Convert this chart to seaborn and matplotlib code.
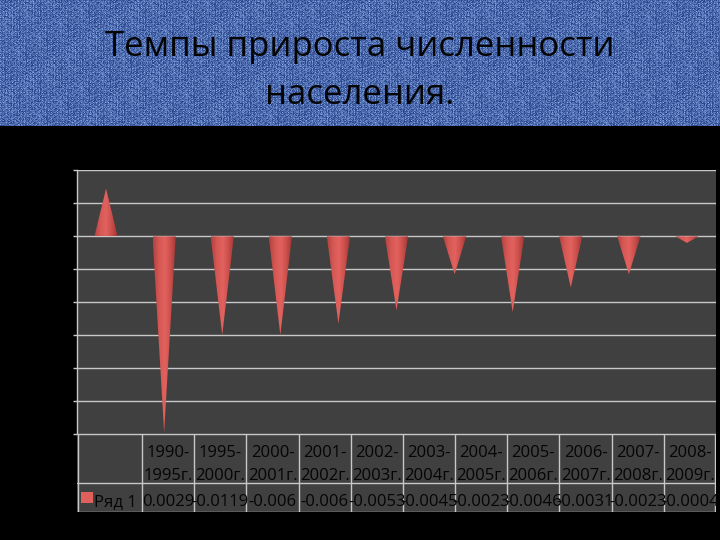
import numpy as np
import pandas as pd
import matplotlib
matplotlib.use("Agg")
import matplotlib.pyplot as plt
import seaborn as sns
from matplotlib.patches import Polygon, Rectangle
from matplotlib.colors import LinearSegmentedColormap

# ---------------- data ----------------
periods_top = ["1990-", "1995-", "2000-", "2001-", "2002-", "2003-",
               "2004-", "2005-", "2006-", "2007-", "2008-"]
periods_bottom = ["1995г.", "2000г.", "2001г.", "2002г.", "2003г.", "2004г.",
                  "2005г.", "2006г.", "2007г.", "2008г.", "2009г."]
values = [0.0029, -0.0119, -0.006, -0.006, -0.0053, -0.0045,
          -0.0023, -0.0046, -0.0031, -0.0023, -0.0004]
value_labels = ["0.0029", "-0.0119", "-0.006", "-0.006", "-0.0053", "-0.0045",
                "-0.0023", "-0.0046", "-0.0031", "-0.0023", "-0.0004"]
series_name = "Ряд 1"
title_lines = ["Темпы прироста численности", "населения."]
y_ticks = [-0.012, -0.010, -0.008, -0.006, -0.004, -0.002, 0.0, 0.002, 0.004]

# ---------------- style ----------------
sns.set_theme(style="dark")
plt.rcParams['font.family'] = ['Open Sans', 'DejaVu Sans']

W, H = 720, 540
fig = plt.figure(figsize=(7.2, 5.4), dpi=100, facecolor='black')


def fx(px):
    return px / W


def fy(py):
    return 1 - py / H


# ---------------- banner ----------------
banner_h = 126
bax = fig.add_axes([0, fy(banner_h), 1, banner_h / H])
yy, xx = np.mgrid[0:banner_h, 0:W]
t = ((xx * 37 + yy * 91 + (xx * yy) % 7 + (xx // 3) * 5) % 11) / 10.0
t = 0.5 * t + 0.3 * ((xx % 3 == 0) & (yy % 2 == 0)) + 0.05
t = np.clip(t, 0, 1)
dark = np.array([0.13, 0.24, 0.52])
light = np.array([0.62, 0.75, 0.97])
img = dark[None, None, :] + t[:, :, None] * (light - dark)[None, None, :]
bax.imshow(img, aspect='auto', extent=[0, W, banner_h, 0], interpolation='nearest')
bax.set_axis_off()

fig.text(0.5, fy(56), title_lines[0], ha='center', va='baseline',
         fontsize=25, color='#050505')
fig.text(0.5, fy(104), title_lines[1], ha='center', va='baseline',
         fontsize=25, color='#050505')

# ---------------- chart ----------------
bg = '#404040'
gridc = '#c8c8c8'
left_px, right_px = 77, 716
top_px, axis_bottom_px, table_bottom_px = 170.5, 434, 512

ax = fig.add_axes([fx(left_px), fy(axis_bottom_px),
                   (right_px - left_px) / W, (axis_bottom_px - top_px) / H])
ax.set_facecolor(bg)

df = pd.DataFrame({"period": [a + b for a, b in zip(periods_top, periods_bottom)],
                   "value": values})
sns.barplot(data=df, x="period", y="value", width=0.4, color='#c0504d',
            saturation=1, ax=ax, errorbar=None)

cmap = LinearSegmentedColormap.from_list(
    "cone", ['#b3423f', '#d65854', '#e2625e', '#c94e4a', '#9c3432'])
grad = np.linspace(0, 1, 64)[None, :]
for p in list(ax.patches):
    x0, w, h = p.get_x(), p.get_width(), p.get_height()
    p.set_visible(False)
    tri = Polygon([(x0, 0), (x0 + w, 0), (x0 + w / 2, h)], closed=True,
                  facecolor='none', edgecolor='none')
    ax.add_patch(tri)
    im = ax.imshow(grad, cmap=cmap, aspect='auto', interpolation='bilinear',
                   extent=[x0, x0 + w, min(0, h), max(0, h)], zorder=3)
    im.set_clip_path(tri)

ax.set_xlim(-0.5, len(values) - 0.5)
ax.set_ylim(y_ticks[0], y_ticks[-1])
ax.set_yticks(y_ticks)
ax.set_xticks([])
ax.set_xlabel("")
ax.set_ylabel("")
ax.grid(axis='y', color=gridc, lw=1.0)
ax.grid(axis='x', visible=False)
ax.set_axisbelow(True)
ax.tick_params(axis='y', left=True, length=3, width=1, color=gridc,
               labelleft=False, direction='out')
for s in ['top', 'right', 'bottom']:
    ax.spines[s].set_visible(False)
ax.spines['left'].set_color(gridc)
ax.spines['left'].set_linewidth(1.0)

# ---------------- data table ----------------
tax = fig.add_axes([fx(left_px), fy(table_bottom_px),
                    (right_px - left_px) / W, (table_bottom_px - axis_bottom_px) / H])
tax.set_facecolor(bg)
tax.set_xlim(left_px, right_px)
tax.set_ylim(table_bottom_px, axis_bottom_px)
tax.set_axis_off()
tax.add_patch(Rectangle((left_px, axis_bottom_px), right_px - left_px,
                        table_bottom_px - axis_bottom_px, facecolor=bg,
                        edgecolor='none', zorder=0))

col0 = 142
ncol = len(values)
cw = (right_px - col0) / ncol
mid_px = 483
lc = '#c8c8c8'
tax.plot([left_px, right_px], [axis_bottom_px, axis_bottom_px], color=lc, lw=1)
tax.plot([left_px, right_px], [mid_px, mid_px], color=lc, lw=1)
tax.plot([left_px, right_px], [table_bottom_px - 0.5, table_bottom_px - 0.5], color=lc, lw=1)
tax.plot([left_px + 0.5, left_px + 0.5], [axis_bottom_px, table_bottom_px], color=lc, lw=1)
for k in range(ncol + 1):
    xk = col0 + k * cw
    if k == ncol:
        xk -= 0.5
    tax.plot([xk, xk], [axis_bottom_px, table_bottom_px], color=lc, lw=1)

fs = 12
tcol = '#050505'
for k in range(ncol):
    cx = col0 + (k + 0.5) * cw
    tax.text(cx, 456.7, periods_top[k], ha='center', va='baseline', fontsize=fs, color=tcol)
    tax.text(cx, 480.3, periods_bottom[k], ha='center', va='baseline', fontsize=fs, color=tcol)
    tax.text(cx, 506.5, value_labels[k], ha='center', va='baseline', fontsize=fs, color=tcol)

tax.add_patch(Rectangle((81, 492), 12, 11, facecolor='#e0605c', edgecolor='none'))
tax.text(94, 506.5, series_name, ha='left', va='baseline', fontsize=fs, color=tcol)

fig.savefig("out.png", dpi=100, facecolor='black')
